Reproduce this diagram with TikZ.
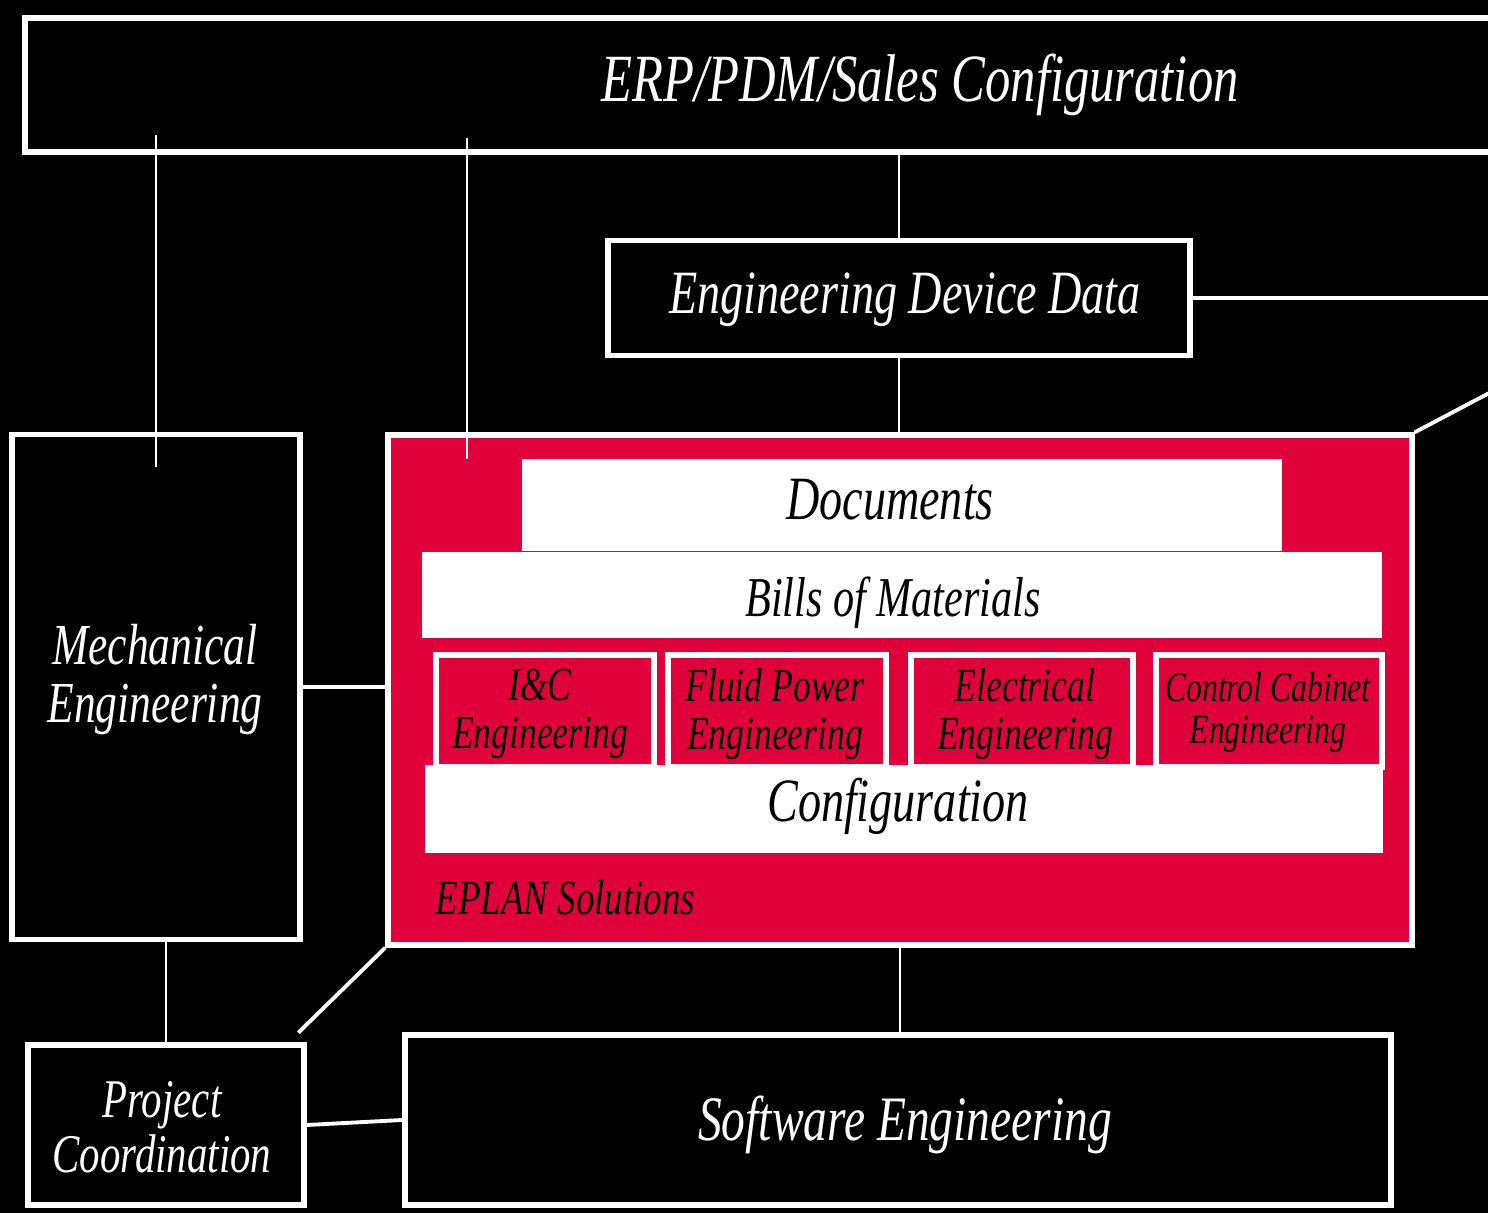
\documentclass[tikz,border=0pt]{standalone}
\usepackage{fontspec}
\setmainfont{Liberation Serif}
\newfontfamily\hand[FakeStretch=0.75]{Liberation Serif}
\usetikzlibrary{calc}
\definecolor{eplanred}{RGB}{224,0,58}
\begin{document}
\begin{tikzpicture}[x=0.01cm,y=-0.01cm,
  bw/.style={minimum width=#1*0.01cm},
  bh/.style={minimum height=#1*0.01cm},
  hbox/.style={draw=white, line width=1.5pt, inner sep=0pt},
  wbox/.style={draw=white, fill=white, line width=1.5pt, inner sep=0pt},
  rbox/.style={draw=white, fill=eplanred, line width=1.5pt, inner sep=0pt},
  wtxt/.style={text=white, align=center, inner sep=0pt},
  btxt/.style={text=black, align=center, inner sep=0pt},
  hf/.style={font=\hand\itshape\fontsize{#1}{#1}\selectfont},
  conn/.style={draw=white, line width=0.6pt},
  hconn/.style={draw=white, line width=1.1pt}
]
\useasboundingbox (0,0) rectangle (1488,1213);
\fill[black] (0,0) rectangle (1488,1213);
\clip (0,0) rectangle (1488,1213);

% top box
\node[hbox, bw=1500, bh=134] (erp) at (775,85) {};
\node[wtxt, hf=19.2] (erpt) at (920,85) {ERP/PDM/Sales Configuration};

% engineering device data
\node[hbox, bw=582, bh=115] (edd) at (899,298) {};
\node[wtxt, hf=17.5] (eddt) at (905,300) {Engineering Device Data};

% red EPLAN area
\node[rbox, bw=1024, bh=510] (red) at (900,690) {};
\node[wbox, bw=755, bh=86] (docs) at (902,505) {};
\node[btxt, hf=17.5] (docst) at (890,500) {Documents};
\node[wbox, bw=955, bh=80] (bom) at (902,595) {};
\node[btxt, hf=16] (bomt) at (893,603) {Bills of Materials};
\node[rbox, bw=218, bh=112] (ic) at (545,711) {};
\node[btxt, hf=13.5] (ict) at (540,714) {I\&C\\Engineering};
\node[rbox, bw=218, bh=112] (fluid) at (777,711) {};
\node[btxt, hf=13.5] (fluidt) at (775,714) {Fluid Power\\Engineering};
\node[rbox, bw=222, bh=112] (elec) at (1022,711) {};
\node[btxt, hf=13.5] (elect) at (1025,714) {Electrical\\Engineering};
\node[rbox, bw=226, bh=112] (cab) at (1269,711) {};
\node[btxt, hf=12] (cabt) at (1268,712) {Control Cabinet\\Engineering};
\node[wbox, bw=952, bh=82] (conf) at (904,809) {};
\node[btxt, hf=17.5] (conft) at (898,806) {Configuration};
\node[btxt, hf=14, anchor=west] (eplant) at (435,898) {EPLAN Solutions};

% mechanical engineering
\node[hbox, bw=288, bh=505] (mech) at (156,687) {};
\node[wtxt, hf=16.5] (mecht) at (155,680) {Mechanical\\Engineering};

% project coordination
\node[hbox, bw=276, bh=160] (pc) at (166,1125) {};
\node[wtxt, hf=15.5] (pct) at (162,1127) {Project\\Coordination};

% software engineering
\node[hbox, bw=986, bh=170] (se) at (898,1120) {};
\node[wtxt, hf=18] (set) at (905,1125) {Software Engineering};

% connectors
\draw[conn] ([yshift=0.2cm]erp.south -| mech.north) -- ([yshift=-0.35cm]mech.north);
\draw[conn] ([xshift=0.82cm,yshift=0.17cm]erp.south -| red.north west) -- ([xshift=0.82cm,yshift=-0.27cm]red.north west);
\draw[conn] (erp.south -| edd.north) -- (edd.north);
\draw[conn] (edd.south) -- (edd.south |- red.north);
\draw[hconn] (edd.east) -- (edd.east -| erp.east);
\coordinate (ne) at ($(red.north east)+(110,-58)$);
\draw[hconn] (red.north east) -- (ne);
\coordinate (sw) at ($(red.south west)+(-87,85)$);
\draw[hconn] (red.south west) -- (sw);
\draw[hconn] (mech.east) -- (mech.east -| red.west);
\draw[conn] (mech.south -| pc.north) -- (pc.north);
\draw[hconn] (pc.east) -- (se.west);
\draw[conn] (red.south) -- (red.south |- se.north);
\end{tikzpicture}
\end{document}
